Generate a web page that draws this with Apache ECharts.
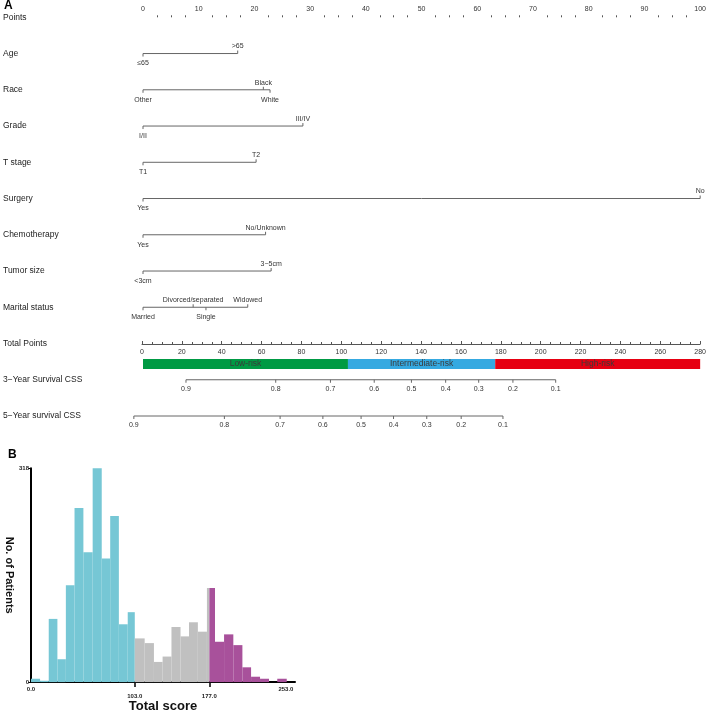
<!DOCTYPE html>
<html>
<head>
<meta charset="utf-8">
<script src="https://cdn.jsdelivr.net/npm/echarts@6/dist/echarts.min.js"></script>
<style>
  html, body { margin: 0; padding: 0; background: #fff; }
  #main { width: 709px; height: 714px; }
</style>
</head>
<body>
<div id="main"></div>
<script>
// rows of the nomogram (panel A)
var rowNames = ['Points', 'Age', 'Race', 'Grade', 'T stage', 'Surgery', 'Chemotherapy',
  'Tumor size', 'Marital status', 'Total Points', '3\u2212Year Survival CSS', '5\u2212Year survival CSS'];

// predictor levels and their points
var levelLabels = [
  ['\u226465', '>65'],
  ['Other', 'Black', 'White'],
  ['I/II', 'III/IV'],
  ['T1', 'T2'],
  ['Yes', 'No'],
  ['Yes', 'No/Unknown'],
  ['<3cm', '3\u22125cm'],
  ['Married', 'Divorced/separated', 'Single', 'Widowed']
];
var levelPoints = [
  [0, 17],
  [0, 21.6, 22.8],
  [0, 28.7],
  [0, 20.3],
  [0, 100],
  [0, 22],
  [0, 23],
  [0, 9, 11.3, 18.8]
];
var levelAbove = [[0, 1], [0, 1, 0], [0, 1], [0, 1], [0, 1], [0, 1], [0, 1], [0, 1, 0, 1]];

// survival scales: probability -> total points
var survProbs = [0.9, 0.8, 0.7, 0.6, 0.5, 0.4, 0.3, 0.2, 0.1];
var css3Points = [21.6, 66.7, 94.2, 116.2, 134.9, 152.1, 168.7, 185.9, 207.4];
var css5Points = [-4.6, 40.9, 68.9, 90.4, 109.6, 125.9, 142.6, 159.9, 180.9];

// risk groups on total points
var riskNames = ['Low-risk', 'Intermediate-risk', 'High-risk'];
var riskCuts = [0, 103, 177, 280];
var riskColors = ['#009a44', '#35a9e1', '#e60012'];

// panel B histogram
var histEdges = [0, 9, 17.6, 26.2, 34.6, 43.2, 52, 61.2, 70.2, 78.6, 87.2, 96, 103,
  112.8, 122, 130.6, 139.4, 148.4, 156.8, 165.6, 174.6, 177,
  182.6, 191.6, 200.8, 209.8, 218.4, 227.3, 236.2, 244.4, 253.8];
var histCounts = [5, 2, 94, 34, 144, 259, 193, 318, 184, 247, 86, 104,
  65, 58, 30, 38, 82, 68, 89, 75, 140,
  140, 60, 71, 55, 22, 8, 5, 0, 5];
var scoreCuts = [103, 177];
var scoreTicks = [0, 103, 177, 253];
var groupColors = ['#76c7d5', '#c0c0c0', '#a8519b'];

var FONT = 'Liberation Sans, Arial, sans-serif';
var myChart = echarts.init(document.getElementById('main'));

var varData = levelPoints.map(function (pts, i) {
  return [Math.min.apply(null, pts), Math.max.apply(null, pts), i + 1];
});
var survData = [
  [css3Points[0], css3Points[css3Points.length - 1], 10],
  [css5Points[0], css5Points[css5Points.length - 1], 11]
];
var survPts = [css3Points, css5Points];
var riskData = riskNames.map(function (n, i) { return [riskCuts[i], riskCuts[i + 1], 9]; });
var histData = histCounts.map(function (c, i) { return [histEdges[i], histEdges[i + 1], c]; });

function txt(x, y, s, above, size, color, weight) {
  return {
    type: 'text', x: x, y: y,
    style: { text: s, fontSize: size, fill: color, fontFamily: FONT, fontWeight: weight || 'normal',
      align: 'center', verticalAlign: above ? 'bottom' : 'top' }
  };
}

function renderVariable(params, api) {
  var i = params.dataIndex;
  var row = api.value(2);
  var a = api.coord([api.value(0), row]);
  var b = api.coord([api.value(1), row]);
  var kids = [{ type: 'line', shape: { x1: a[0], y1: a[1], x2: b[0], y2: b[1] }, style: { stroke: '#666', lineWidth: 1 } }];
  levelPoints[i].forEach(function (p, k) {
    var c = api.coord([p, row]);
    var up = levelAbove[i][k] === 1;
    kids.push({ type: 'line', shape: { x1: c[0], y1: c[1], x2: c[0], y2: c[1] + (up ? -3 : 3) }, style: { stroke: '#666', lineWidth: 1 } });
    kids.push(txt(c[0], up ? c[1] - 3.5 : c[1] + 6.5, levelLabels[i][k], up, 7, '#333'));
  });
  return { type: 'group', children: kids };
}

function renderSurv(params, api) {
  var row = api.value(2);
  var a = api.coord([api.value(0), row]);
  var b = api.coord([api.value(1), row]);
  var kids = [{ type: 'line', shape: { x1: a[0], y1: a[1], x2: b[0], y2: b[1] }, style: { stroke: '#666', lineWidth: 1 } }];
  survPts[params.dataIndex].forEach(function (p, k) {
    var c = api.coord([p, row]);
    kids.push({ type: 'line', shape: { x1: c[0], y1: c[1], x2: c[0], y2: c[1] + 3 }, style: { stroke: '#666', lineWidth: 1 } });
    kids.push(txt(c[0], c[1] + 6, String(survProbs[k]), false, 7, '#333'));
  });
  return { type: 'group', children: kids };
}

function renderRisk(params, api) {
  var i = params.dataIndex;
  var a = api.coord([api.value(0), api.value(2)]);
  var b = api.coord([api.value(1), api.value(2)]);
  return {
    type: 'group',
    children: [
      { type: 'rect', shape: { x: a[0], y: a[1] + 15.5, width: b[0] - a[0], height: 10 }, style: { fill: riskColors[i] } },
      { type: 'text', x: (a[0] + b[0]) / 2, y: a[1] + 20.5,
        style: { text: riskNames[i], fontSize: 8.5, fill: '#3a3a3a', fontFamily: FONT, align: 'center', verticalAlign: 'middle' } }
    ]
  };
}

function renderHist(params, api) {
  var x0 = api.value(0), x1 = api.value(1);
  var p0 = api.coord([x0, api.value(2)]);
  var p1 = api.coord([x1, 0]);
  var g = x1 <= scoreCuts[0] ? 0 : (x1 <= scoreCuts[1] ? 1 : 2);
  return { type: 'rect', shape: { x: p0[0], y: p0[1], width: p1[0] - p0[0], height: p1[1] - p0[1] }, style: { fill: groupColors[g] } };
}

var option = {
  animation: false,
  textStyle: { fontFamily: FONT },
  graphic: [
    { type: 'text', left: 4, top: 0, style: { text: 'A', fontSize: 12, fontWeight: 'bold', fill: '#000', fontFamily: FONT } },
    { type: 'text', left: 8, top: 449, style: { text: 'B', fontSize: 12, fontWeight: 'bold', fill: '#000', fontFamily: FONT } }
  ],
  grid: [
    { left: 142, width: 560, top: 17.3, height: 398.7 },
    { left: 142, width: 560, top: 300, height: 44 },
    { left: 31, width: 264, top: 468.3, height: 219 }
  ],
  xAxis: [
    { // Points
      gridIndex: 0, type: 'value', position: 'top', min: 0, max: 100, interval: 10,
      axisLine: { onZero: false, lineStyle: { color: '#555', width: 1 } },
      axisTick: { length: 3, lineStyle: { color: '#555' } },
      minorTick: { show: true, splitNumber: 4, length: 2, lineStyle: { color: '#555' } },
      axisLabel: { fontSize: 7, color: '#333', margin: 5 },
      splitLine: { show: false }
    },
    { // Total Points
      gridIndex: 1, type: 'value', position: 'bottom', min: 0, max: 280, interval: 20,
      axisLine: { onZero: false, lineStyle: { color: '#555', width: 1 } },
      axisTick: { inside: true, length: 3, lineStyle: { color: '#555' } },
      minorTick: { show: true, splitNumber: 4, length: 2, lineStyle: { color: '#555' } },
      axisLabel: { fontSize: 7, color: '#333', margin: 5 },
      splitLine: { show: false }
    },
    { // hidden total-points scale inside the nomogram grid
      gridIndex: 0, type: 'value', position: 'bottom', min: 0, max: 280, show: false
    },
    { // histogram
      gridIndex: 2, type: 'value', min: 0, max: 262,
      name: 'Total score', nameLocation: 'middle', nameGap: 15,
      nameTextStyle: { fontSize: 13, fontWeight: 'bold', color: '#111', verticalAlign: 'top' },
      axisLine: { onZero: false, lineStyle: { color: '#000', width: 2 } },
      axisTick: { customValues: [scoreCuts[0], scoreCuts[1]], length: 5, lineStyle: { color: '#000', width: 1.5 } },
      axisLabel: {
        customValues: scoreTicks, fontSize: 6, fontWeight: 'bold', color: '#222', margin: 4,
        formatter: function (v) {
          var s = Number(v).toFixed(1);
          return scoreCuts.indexOf(Number(v)) >= 0 ? '{lo|' + s + '}' : s;
        },
        rich: { lo: { fontSize: 6, fontWeight: 'bold', color: '#222', padding: [7, 0, 0, 0] } }
      },
      splitLine: { show: false }
    }
  ],
  yAxis: [
    {
      gridIndex: 0, type: 'category', data: rowNames, inverse: true, boundaryGap: false,
      axisLine: { show: false }, axisTick: { show: false },
      axisLabel: { align: 'left', margin: 140, fontSize: 8.5, color: '#222', interval: 0 },
      splitLine: { show: false }
    },
    { gridIndex: 1, type: 'value', show: false },
    {
      gridIndex: 2, type: 'value', min: 0, max: 318, interval: 318,
      name: 'No. of Patients', nameLocation: 'middle', nameRotate: -90, nameGap: 16,
      nameTextStyle: { fontSize: 11, fontWeight: 'bold', color: '#111' },
      axisLine: { show: true, lineStyle: { color: '#000', width: 2 } },
      axisTick: { show: true, length: 3, lineStyle: { color: '#000' } },
      axisLabel: { fontSize: 6, fontWeight: 'bold', color: '#222', margin: 2 },
      splitLine: { show: false }
    }
  ],
  series: [
    { type: 'custom', xAxisIndex: 0, yAxisIndex: 0, clip: false, encode: { x: [0, 1], y: 2 },
      renderItem: renderVariable, data: varData, silent: true },
    { type: 'custom', xAxisIndex: 2, yAxisIndex: 0, clip: false, encode: { x: [0, 1], y: 2 },
      renderItem: renderRisk, data: riskData, silent: true },
    { type: 'custom', xAxisIndex: 2, yAxisIndex: 0, clip: false, encode: { x: [0, 1], y: 2 },
      renderItem: renderSurv, data: survData, silent: true },
    { type: 'custom', xAxisIndex: 3, yAxisIndex: 2, clip: false, encode: { x: [0, 1], y: 2 },
      renderItem: renderHist, data: histData, silent: true, z: 1 }
  ]
};
myChart.setOption(option);
</script>
</body>
</html>
